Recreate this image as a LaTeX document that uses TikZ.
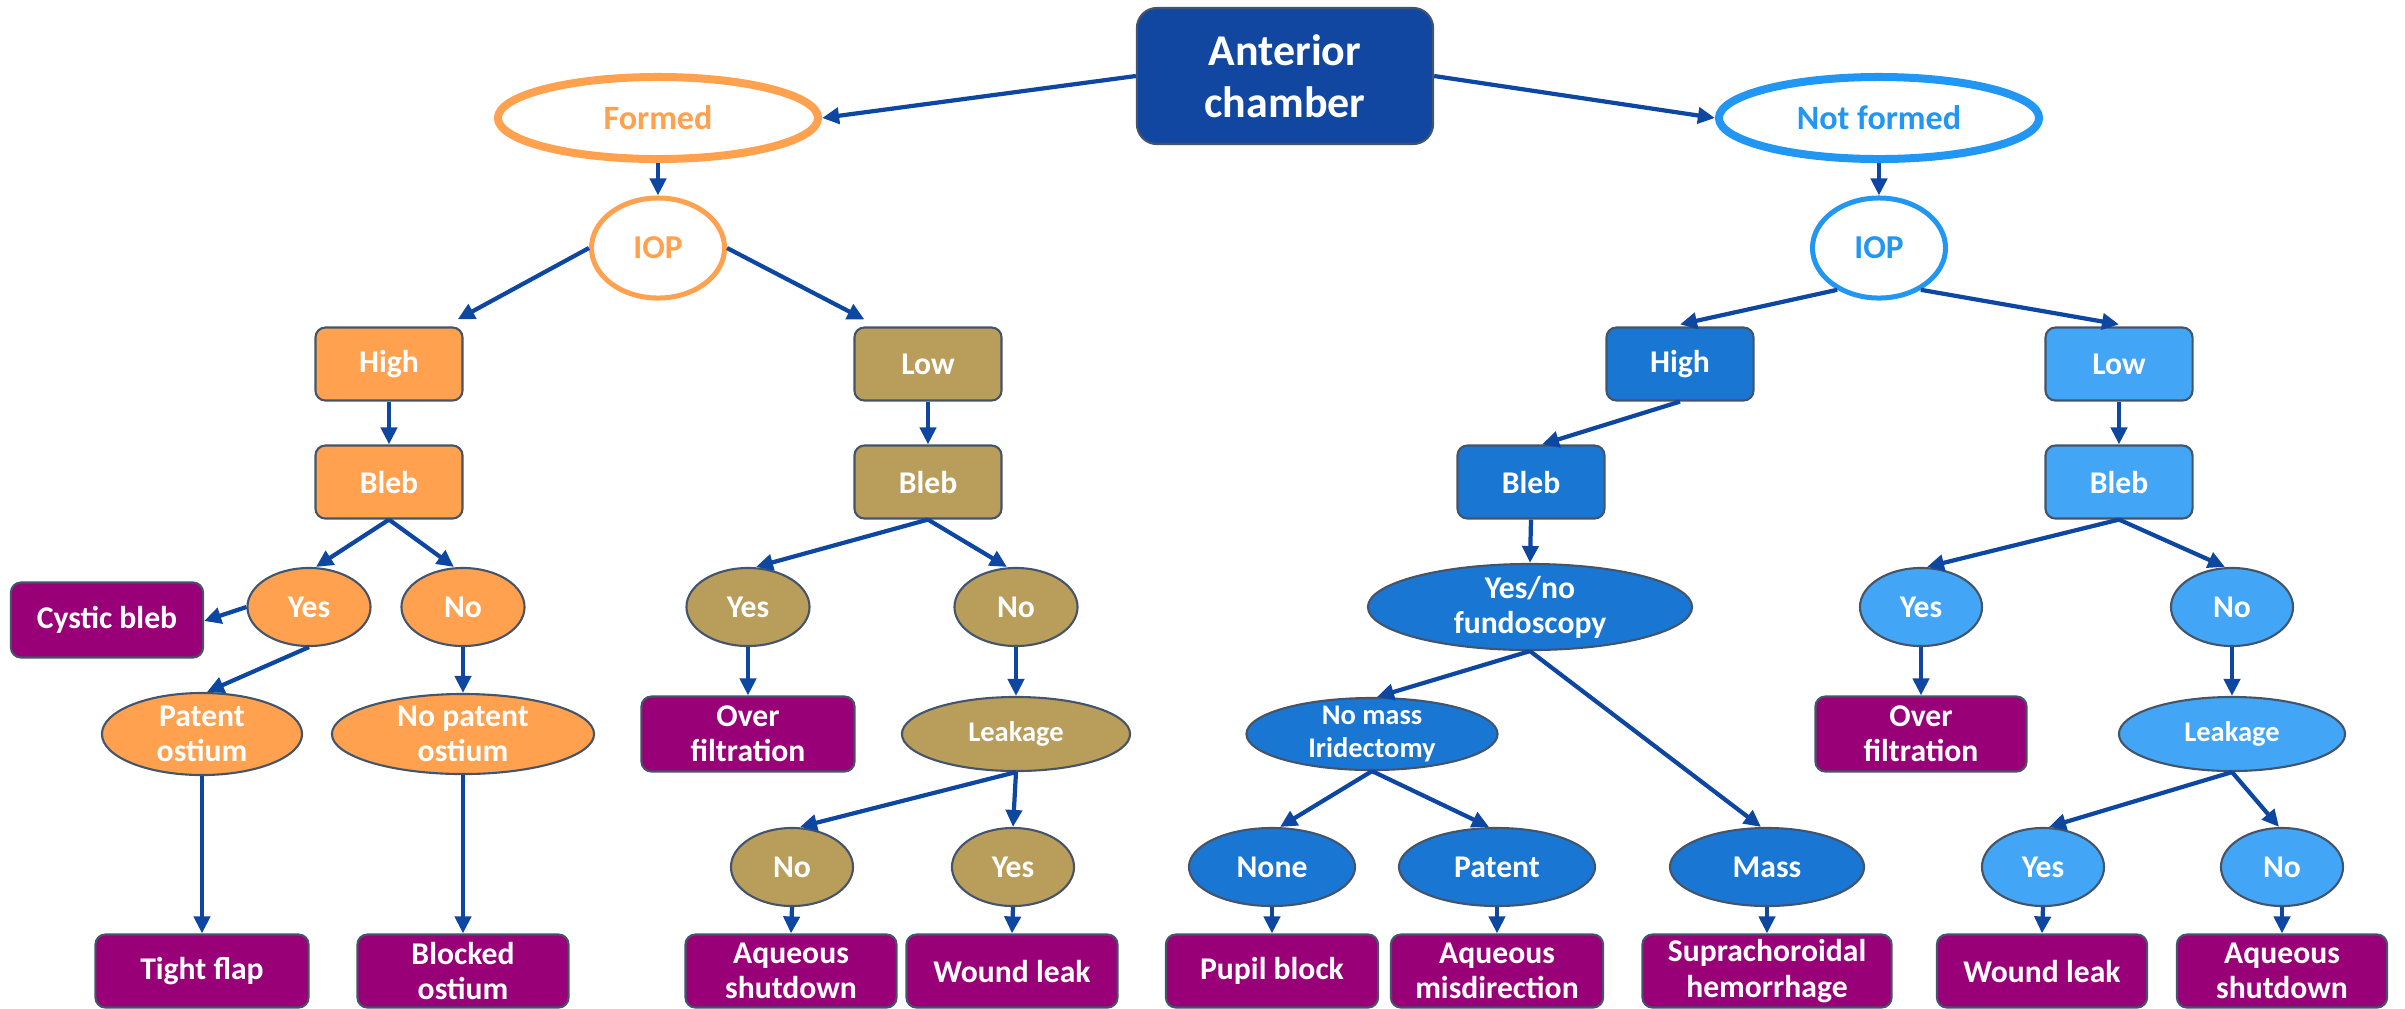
\documentclass[tikz,border=0pt]{standalone}
\usepackage{fontspec}
\setmainfont{Carlito}
\usetikzlibrary{shapes.geometric,arrows.meta}

\definecolor{topblue}{HTML}{1147A1}
\definecolor{orangefill}{HTML}{FFA14F}
\definecolor{tanfill}{HTML}{B99D5B}
\definecolor{midblue}{HTML}{1976D2}
\definecolor{lightblue}{HTML}{42A5F5}
\definecolor{brightblue}{HTML}{2196F3}
\definecolor{outcome}{HTML}{990078}
\definecolor{edgegray}{HTML}{44546A}
\definecolor{arrowblue}{HTML}{0D47A1}

\begin{document}
\begin{tikzpicture}[x=0.01cm,y=-0.01cm,
  base/.style={draw=edgegray, line width=0.6pt, text=white, align=center,
    font=\fontsize{9}{10}\selectfont\bfseries},
  box/.style={base, rectangle, rounded corners=0.1cm, inner sep=0pt,
    minimum height=0.73cm},
  oval/.style={base, ellipse, inner sep=-2pt, minimum height=0.78cm},
  small/.style={font=\fontsize{8.1}{9.5}\selectfont\bfseries},
  orangebox/.style={box, fill=orangefill, minimum width=1.47cm},
  tanbox/.style={box, fill=tanfill, minimum width=1.47cm},
  midbox/.style={box, fill=midblue, minimum width=1.47cm},
  lightbox/.style={box, fill=lightblue, minimum width=1.47cm},
  result/.style={box, fill=outcome, minimum width=2.11cm, minimum height=0.73cm},
  branch/.style={ellipse, fill=white, line width=0.08cm, inner sep=0pt,
    minimum width=3.2cm, minimum height=0.82cm,
    font=\fontsize{9.7}{11}\selectfont\bfseries},
  iop/.style={ellipse, fill=white, line width=0.05cm, inner sep=0pt,
    minimum width=1.33cm, minimum height=1.0cm,
    font=\fontsize{9.5}{11}\selectfont\bfseries},
  conn/.style={draw=arrowblue, line width=1.2pt,
    -{Triangle[length=0.17cm,width=0.16cm]}}
]
\useasboundingbox (0,0) rectangle (2405,1008);

% root and the two main branches
\node[base, rectangle, rounded corners=0.2cm, fill=topblue, inner sep=0pt,
  minimum width=2.96cm, minimum height=1.36cm,
  font=\fontsize{12.5}{14.8}\selectfont\bfseries] (ant) at (1285,76) {Anterior\\chamber};
\node[branch, draw=orangefill, text=orangefill] (formed) at (658,118) {Formed};
\node[branch, draw=brightblue, text=brightblue] (notformed) at (1879,118) {Not formed};
\node[iop, draw=orangefill, text=orangefill] (iopL) at (658,248) {IOP};
\node[iop, draw=brightblue, text=brightblue] (iopR) at (1879,248) {IOP};

% pressure level
\node[orangebox] (highL) at (389,364) {High};
\node[tanbox] (lowL) at (928,364) {Low};
\node[midbox] (highR) at (1680,364) {High};
\node[lightbox] (lowR) at (2119,364) {Low};

% bleb
\node[orangebox] (blebA) at (389,482) {Bleb};
\node[tanbox] (blebB) at (928,482) {Bleb};
\node[midbox] (blebC) at (1531,482) {Bleb};
\node[lightbox] (blebD) at (2119,482) {Bleb};

% formed, high IOP
\node[oval, fill=orangefill, minimum width=1.23cm] (aYes) at (309,607) {Yes};
\node[oval, fill=orangefill, minimum width=1.23cm] (aNo) at (463,607) {No};
\node[result, minimum width=1.92cm, minimum height=0.75cm] (cystic) at (107,620) {Cystic bleb};
\node[oval, fill=orangefill, minimum width=2.0cm, minimum height=0.82cm] (aPatent) at (202,734) {Patent\\ostium};
\node[oval, fill=orangefill, minimum width=2.62cm, minimum height=0.8cm] (aNoPatent) at (463,734) {No patent\\ostium};
\node[result, minimum width=2.13cm] (tight) at (202,971) {Tight flap};
\node[result] (blocked) at (463,971) {Blocked\\ostium};

% formed, low IOP
\node[oval, fill=tanfill, minimum width=1.23cm] (bYes) at (748,607) {Yes};
\node[oval, fill=tanfill, minimum width=1.23cm] (bNo) at (1016,607) {No};
\node[result, minimum width=2.13cm, minimum height=0.75cm] (bOver) at (748,734) {Over\\filtration};
\node[oval, small, fill=tanfill, minimum width=2.28cm, minimum height=0.74cm] (bLeak) at (1016,734) {Leakage};
\node[oval, fill=tanfill, minimum width=1.22cm] (bLeakNo) at (792,867) {No};
\node[oval, fill=tanfill, minimum width=1.22cm] (bLeakYes) at (1013,867) {Yes};
\node[result] (bShut) at (791,971) {Aqueous\\shutdown};
\node[result] (bWound) at (1012,971) {Wound leak};

% not formed, high IOP
\node[oval, fill=midblue, minimum width=3.24cm, minimum height=0.86cm] (cFundus) at (1530,607) {Yes/no\\fundoscopy};
\node[oval, small, fill=midblue, minimum width=2.51cm, minimum height=0.72cm] (cNoMass) at (1372,734) {No mass\\Iridectomy};
\node[oval, fill=midblue, minimum width=1.66cm] (cNone) at (1272,867) {None};
\node[oval, fill=midblue, minimum width=1.96cm] (cPatent) at (1497,867) {Patent};
\node[oval, fill=midblue, minimum width=1.94cm] (cMass) at (1767,867) {Mass};
\node[result, minimum width=2.12cm] (cPupil) at (1272,971) {Pupil block};
\node[result, minimum width=2.12cm] (cMisdir) at (1497,971) {Aqueous\\misdirection};
\node[result, minimum width=2.49cm] (cSupra) at (1767,971) {Suprachoroidal\\hemorrhage};

% not formed, low IOP
\node[oval, fill=lightblue, minimum width=1.22cm] (dYes) at (1921,607) {Yes};
\node[oval, fill=lightblue, minimum width=1.22cm] (dNo) at (2232,607) {No};
\node[result, minimum height=0.75cm] (dOver) at (1921,734) {Over\\filtration};
\node[oval, small, fill=lightblue, minimum width=2.26cm, minimum height=0.74cm] (dLeak) at (2232,734) {Leakage};
\node[oval, fill=lightblue, minimum width=1.22cm] (dLeakYes) at (2043,867) {Yes};
\node[oval, fill=lightblue, minimum width=1.22cm] (dLeakNo) at (2282,867) {No};
\node[result, minimum width=2.10cm] (dWound) at (2042,971) {Wound leak};
\node[result, minimum width=2.10cm] (dShut) at (2282,971) {Aqueous\\shutdown};

% connectors
\draw[conn] (ant.west) -- (formed.east);
\draw[conn] (ant.east) -- (notformed.west);
\draw[conn] (formed.south) -- (iopL.north);
\draw[conn] (notformed.south) -- (iopR.north);
\draw[conn] (iopL.west) -- ([xshift=-0.06cm,yshift=0.07cm]highL.north east);
\draw[conn] (iopL.east) -- ([xshift=0.11cm,yshift=0.07cm]lowL.north west);
\draw[conn] (iopR.225) -- ([yshift=0.02cm]highR.north);
\draw[conn] (iopR.315) -- ([yshift=0.02cm]lowR.north);

\draw[conn] (highL.south) -- (blebA.north);
\draw[conn] (lowL.south) -- (blebB.north);
\draw[conn] (highR.south) -- ([xshift=0.11cm]blebC.north);
\draw[conn] (lowR.south) -- (blebD.north);

\draw[conn] (blebA.south) -- ([xshift=0.07cm]aYes.north);
\draw[conn] (blebA.south) -- ([xshift=-0.09cm]aNo.north);
\draw[conn] (aYes.west) -- ([yshift=-0.01cm]cystic.east);
\draw[conn] (aYes.south) -- ([xshift=0.05cm]aPatent.north);
\draw[conn] (aNo.south) -- (aNoPatent.north);
\draw[conn] (aPatent.south) -- (tight.north);
\draw[conn] (aNoPatent.south) -- (blocked.north);

\draw[conn] (blebB.south) -- ([xshift=0.08cm]bYes.north);
\draw[conn] (blebB.south) -- ([xshift=-0.09cm]bNo.north);
\draw[conn] (bYes.south) -- (bOver.north);
\draw[conn] (bNo.south) -- (bLeak.north);
\draw[conn] (bLeak.south) -- ([xshift=0.08cm]bLeakNo.north);
\draw[conn] (bLeak.south) -- (bLeakYes.north);
\draw[conn] (bLeakNo.south) -- (bShut.north);
\draw[conn] (bLeakYes.south) -- (bWound.north);

\draw[conn] (blebC.south) -- (cFundus.north);
\draw[conn] (cFundus.south) -- ([xshift=0.05cm]cNoMass.north);
\draw[conn] (cFundus.south) -- ([xshift=-0.06cm]cMass.north);
\draw[conn] (cNoMass.south) -- ([xshift=0.08cm]cNone.north);
\draw[conn] (cNoMass.south) -- ([xshift=-0.08cm]cPatent.north);
\draw[conn] (cNone.south) -- (cPupil.north);
\draw[conn] (cPatent.south) -- (cMisdir.north);
\draw[conn] (cMass.south) -- (cSupra.north);

\draw[conn] (blebD.south) -- ([xshift=0.06cm]dYes.north);
\draw[conn] (blebD.south) -- ([xshift=-0.07cm]dNo.north);
\draw[conn] (dYes.south) -- (dOver.north);
\draw[conn] (dNo.south) -- (dLeak.north);
\draw[conn] (dLeak.south) -- ([xshift=0.06cm]dLeakYes.north);
\draw[conn] (dLeak.south) -- ([xshift=-0.03cm]dLeakNo.north);
\draw[conn] (dLeakYes.south) -- (dWound.north);
\draw[conn] (dLeakNo.south) -- (dShut.north);
\end{tikzpicture}
\end{document}
